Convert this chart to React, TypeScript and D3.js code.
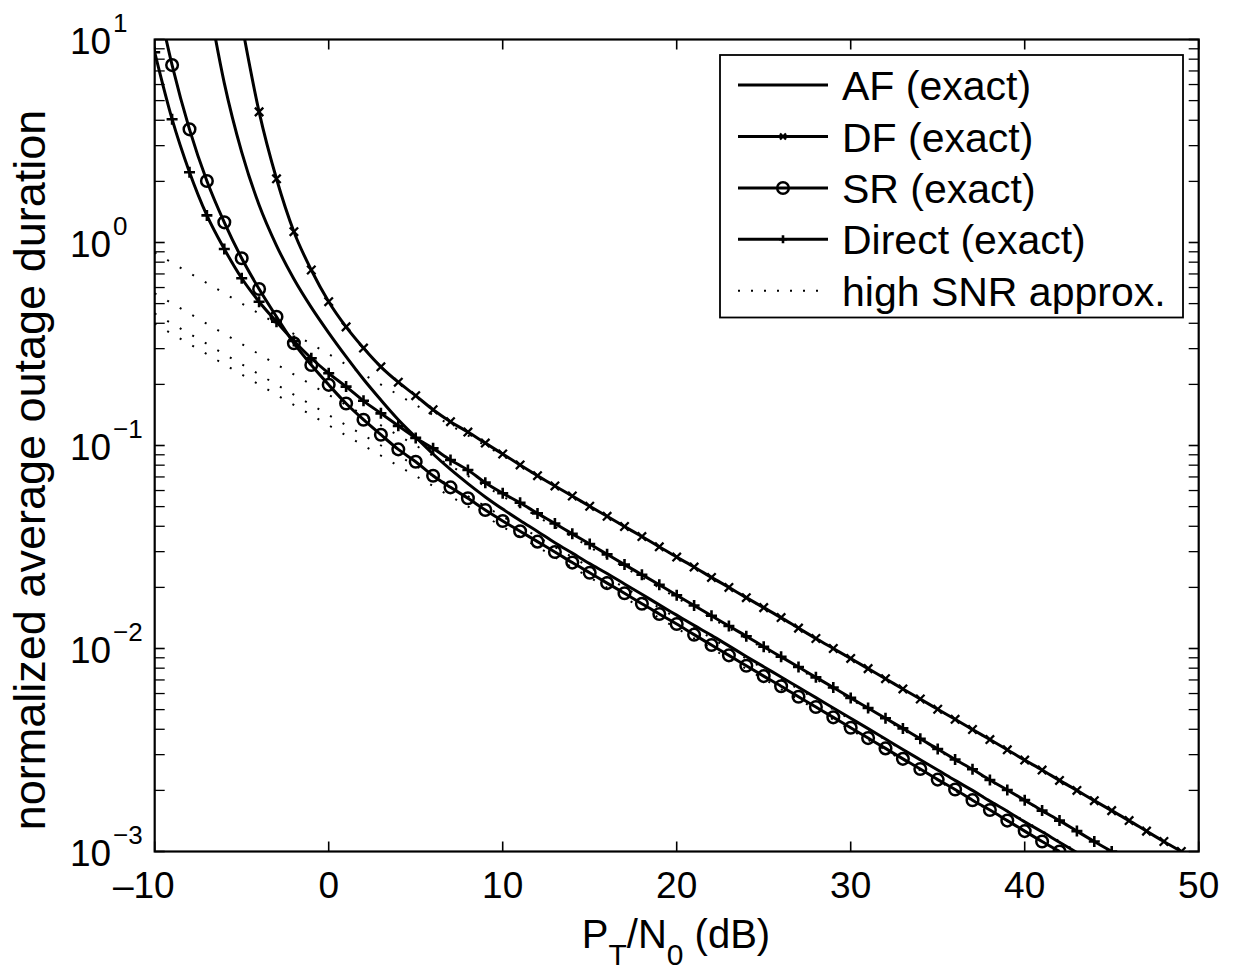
import React from 'react';
import * as d3 from 'd3';

const W = 1234;
const H = 972;
const PLOT = { left: 154.7, right: 1198.7, top: 39.5, bottom: 851.5 };

// x grid (dB) start values; one value per 1 dB step
const afStart = -7;
const afValues = [17.2, 6.1, 2.79, 1.53, 0.966, 0.661, 0.479, 0.359, 0.274, 0.212, 0.1675, 0.134, 0.11,
  0.0908, 0.0762, 0.0649, 0.0558, 0.0486, 0.0427, 0.0377, 0.0332, 0.0295, 0.0262, 0.0234, 0.0208,
  0.0185, 0.0164, 0.0146, 0.013, 0.0116, 0.0103, 0.00914, 0.00813, 0.00724, 0.00644, 0.00573,
  0.00509, 0.00453, 0.00403, 0.00358, 0.00318, 0.00283, 0.00252, 0.00224, 0.002, 0.00177, 0.00158,
  0.0014, 0.00125, 0.00111, 0.000989];

const dfStart = -5;
const dfValues = [12, 4.4, 2.06, 1.13, 0.732, 0.511, 0.384, 0.302, 0.244, 0.205, 0.176, 0.15, 0.131,
  0.1165, 0.1028, 0.0908, 0.0802, 0.071, 0.0632, 0.0564, 0.0502, 0.0448, 0.0399, 0.0356, 0.0317,
  0.0282, 0.0252, 0.0224, 0.02, 0.0178, 0.0159, 0.0142, 0.0126, 0.0112, 0.01, 0.00893, 0.00796,
  0.0071, 0.00632, 0.00564, 0.00502, 0.00448, 0.00399, 0.00356, 0.00317, 0.00282, 0.00252, 0.00224,
  0.002, 0.00178, 0.00159, 0.00142, 0.00126, 0.00112, 0.001];

const srStart = -10;
const srValues = [18.2, 7.48, 3.61, 2.01, 1.257, 0.836, 0.59, 0.431, 0.319, 0.249, 0.199, 0.161, 0.134,
  0.113, 0.0957, 0.0832, 0.071, 0.0622, 0.055, 0.0481, 0.0425, 0.0378, 0.0336, 0.0299, 0.0265,
  0.0236, 0.021, 0.0187, 0.0166, 0.0148, 0.0132, 0.0117, 0.0104, 0.00925, 0.00822, 0.00731, 0.00652,
  0.00579, 0.00515, 0.00458, 0.00407, 0.00362, 0.00322, 0.00286, 0.00255, 0.00226, 0.00202, 0.00179,
  0.0016, 0.00142, 0.00126, 0.00112, 0.001];

const directStart = -10;
const directValues = [8.65, 4.05, 2.22, 1.36, 0.929, 0.667, 0.511, 0.407, 0.327, 0.269, 0.227, 0.195,
  0.166, 0.144, 0.125, 0.109, 0.0968, 0.0849, 0.0757, 0.0656, 0.0582, 0.0522, 0.0463, 0.0413, 0.0367,
  0.0327, 0.0291, 0.0259, 0.0231, 0.0206, 0.0183, 0.0163, 0.0145, 0.0129, 0.0115, 0.0102, 0.0091,
  0.00811, 0.00721, 0.00643, 0.00571, 0.00509, 0.00453, 0.00404, 0.00359, 0.0032, 0.00284, 0.00254,
  0.00225, 0.00201, 0.00179, 0.00159, 0.00142, 0.00126, 0.00112, 0.001];

// high SNR approximations (straight lines on this log scale): endpoints
const approxDb = [-10, 50];
const approxDF = [0.891, 0.000891];
const approxDirect = [0.562, 0.000562];
const approxAF = [0.447, 0.000447];
const approxSR = [0.398, 0.000398];

const xTicks = [-10, 0, 10, 20, 30, 40, 50];
const yDecades = [-3, -2, -1, 0, 1];
const legendLabels = ['AF (exact)', 'DF (exact)', 'SR (exact)', 'Direct (exact)', 'high SNR approx.'];

const FONT = '"Liberation Sans", Arial, Helvetica, sans-serif';

type Pt = [number, number];
const toPts = (start: number, vals: number[]): Pt[] => vals.map((v, i) => [start + i, v]);

export default function App() {
  const x = d3.scaleLinear().domain([-10, 50]).range([PLOT.left, PLOT.right]);
  const y = d3.scaleLog().domain([1e-3, 10]).range([PLOT.bottom, PLOT.top]);
  const line = d3.line<Pt>().x((d) => x(d[0])).y((d) => y(d[1])).curve(d3.curveMonotoneX);
  const straight = d3.line<Pt>().x((d) => x(d[0])).y((d) => y(d[1]));

  const af = toPts(afStart, afValues);
  const df = toPts(dfStart, dfValues);
  const sr = toPts(srStart, srValues);
  const dir = toPts(directStart, directValues);
  const approx = [approxDF, approxDirect, approxAF, approxSR].map(
    (vals) => approxDb.map((d, i) => [d, vals[i]] as Pt)
  );

  const inPlot = (d: Pt) => d[1] <= 10.5 && d[1] >= 0.00095;

  const xMark = (cx: number, cy: number, k: string, s = 4.2) => (
    <path key={k} d={`M${cx - s},${cy - s}L${cx + s},${cy + s}M${cx - s},${cy + s}L${cx + s},${cy - s}`}
      stroke="#000" strokeWidth={2.3} fill="none" />
  );
  const plusMark = (cx: number, cy: number, k: string, s = 5.5) => (
    <path key={k} d={`M${cx - s},${cy}L${cx + s},${cy}M${cx},${cy - s}L${cx},${cy + s}`}
      stroke="#000" strokeWidth={2.6} fill="none" />
  );
  const oMark = (cx: number, cy: number, k: string) => (
    <circle key={k} cx={cx} cy={cy} r={5.8} stroke="#000" strokeWidth={2.5} fill="none" />
  );

  // minor ticks
  const yMinor: number[] = [];
  for (let e = -3; e < 1; e++) for (let m = 2; m <= 9; m++) yMinor.push(m * Math.pow(10, e));

  const tickLen = 10;
  const legendX0 = 720, legendY0 = 55, legendW = 463, legendH = 262.5;
  const legendRows = [85, 136.5, 188, 239.3, 290.7];

  return (
    <svg width={W} height={H} style={{ position: 'absolute', left: 0, top: 0, background: '#fff' }}
      fontFamily={FONT}>
      <rect x={0} y={0} width={W} height={H} fill="#fff" />
      <defs>
        <clipPath id="plotclip">
          <rect x={PLOT.left} y={PLOT.top} width={PLOT.right - PLOT.left} height={PLOT.bottom - PLOT.top} />
        </clipPath>
      </defs>

      <g clipPath="url(#plotclip)">
        {approx.map((pts, i) => (
          <path key={'a' + i} d={straight(pts) || ''} stroke="#000" strokeWidth={2} fill="none"
            strokeDasharray="2 12.5" />
        ))}
        <path d={line(af) || ''} stroke="#000" strokeWidth={3} fill="none" />
        <path d={line(df) || ''} stroke="#000" strokeWidth={3} fill="none" />
        <path d={line(sr) || ''} stroke="#000" strokeWidth={3} fill="none" />
        <path d={line(dir) || ''} stroke="#000" strokeWidth={3} fill="none" />
        {df.filter(inPlot).map((d, i) => xMark(x(d[0]), y(d[1]), 'dx' + i))}
        {sr.filter(inPlot).map((d, i) => oMark(x(d[0]), y(d[1]), 'so' + i))}
        {dir.filter(inPlot).map((d, i) => plusMark(x(d[0]), y(d[1]), 'dp' + i))}
      </g>

      {/* axes box */}
      <rect x={PLOT.left} y={PLOT.top} width={PLOT.right - PLOT.left} height={PLOT.bottom - PLOT.top}
        fill="none" stroke="#000" strokeWidth={2.2} />

      {/* x ticks */}
      {xTicks.map((t) => (
        <g key={'xt' + t}>
          <line x1={x(t)} x2={x(t)} y1={PLOT.bottom} y2={PLOT.bottom - tickLen} stroke="#000" strokeWidth={1.6} />
          <line x1={x(t)} x2={x(t)} y1={PLOT.top} y2={PLOT.top + tickLen} stroke="#000" strokeWidth={1.6} />
          {t < 0 ? (
            <text x={x(t) + 20} y={898} fontSize={37} textAnchor="end">{'\u2013' + Math.abs(t)}</text>
          ) : (
            <text x={x(t)} y={898} fontSize={37} textAnchor="middle">{String(t)}</text>
          )}
        </g>
      ))}

      {/* y ticks */}
      {yDecades.map((e) => {
        const yy = y(Math.pow(10, e));
        return (
          <g key={'yt' + e}>
            <line x1={PLOT.left} x2={PLOT.left + tickLen} y1={yy} y2={yy} stroke="#000" strokeWidth={1.6} />
            <line x1={PLOT.right} x2={PLOT.right - tickLen} y1={yy} y2={yy} stroke="#000" strokeWidth={1.6} />
            <text x={70} y={yy + 14} fontSize={37}>10</text>
            <text x={113} y={yy - 8} fontSize={26}>{e < 0 ? '\u2212' + Math.abs(e) : String(e)}</text>
          </g>
        );
      })}
      {yMinor.map((v, i) => (
        <g key={'ym' + i}>
          <line x1={PLOT.left} x2={PLOT.left + tickLen} y1={y(v)} y2={y(v)} stroke="#000" strokeWidth={1.3} />
          <line x1={PLOT.right} x2={PLOT.right - tickLen} y1={y(v)} y2={y(v)} stroke="#000" strokeWidth={1.3} />
        </g>
      ))}

      {/* axis labels */}
      <text x={676} y={948} fontSize={40} textAnchor="middle">
        P<tspan fontSize={30} dy={17}>T</tspan><tspan dy={-17}>/N</tspan>
        <tspan fontSize={30} dy={17}>0</tspan><tspan dy={-17}> (dB)</tspan>
      </text>
      <text transform={`translate(45,470) rotate(-90)`} fontSize={45}
        textAnchor="middle">normalized average outage duration</text>

      {/* legend */}
      <rect x={legendX0} y={legendY0} width={legendW} height={legendH} fill="#fff" stroke="#000" strokeWidth={1.8} />
      {legendLabels.map((lab, i) => {
        const ry = legendRows[i];
        return (
          <g key={'lg' + i}>
            {i < 4 ? (
              <line x1={738} x2={828} y1={ry} y2={ry} stroke="#000" strokeWidth={3} />
            ) : (
              <line x1={738} x2={828} y1={ry} y2={ry} stroke="#000" strokeWidth={2} strokeDasharray="2 11" />
            )}
            {i === 1 && xMark(783, ry, 'lx', 3)}
            {i === 2 && oMark(783, ry, 'lo')}
            {i === 3 && plusMark(783, ry, 'lp', 4)}
            <text x={842} y={ry + 15} fontSize={41}>{lab}</text>
          </g>
        );
      })}
    </svg>
  );
}
